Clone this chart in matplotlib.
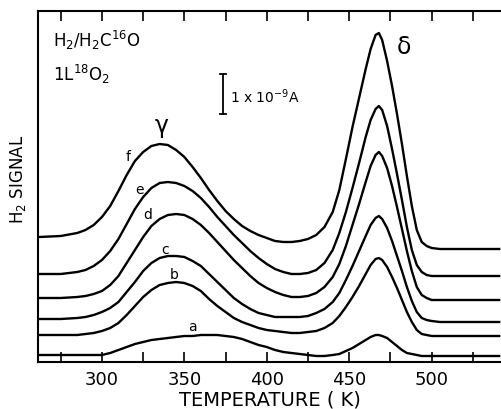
import matplotlib
matplotlib.use('Agg')
import matplotlib.pyplot as plt
from matplotlib.ticker import FixedLocator

plt.rcParams['font.family'] = ['DejaVu Sans']
plt.rcParams['mathtext.default'] = 'regular'

# Temperature grid (K) and traced H2 signal of each curve (arbitrary units).
temps = [262, 275, 285, 290, 295, 300, 305, 310, 315, 320, 325, 330, 335, 340,
         345, 350, 355, 360, 365, 370, 375, 380, 385, 390, 395, 400, 405, 410,
         415, 420, 425, 430, 435, 440, 444, 448, 452, 456, 460, 463, 466, 468,
         470, 473, 476, 479, 482, 485, 488, 491, 494, 497, 500, 505, 510, 541]

sig_a = [7, 7, 7, 7, 7, 7, 9, 12, 15, 18, 20, 22, 23, 24,
         25, 26, 26, 27, 27, 27, 26, 25, 23, 20, 17, 15, 12, 10,
         9, 8, 7, 6, 6, 7, 8, 11, 14, 18, 22, 25, 27, 27,
         26, 24, 20, 16, 12, 9, 8, 7, 6, 6, 6, 6, 6, 6]
sig_b = [27, 27, 27, 28, 29, 31, 34, 39, 47, 56, 65, 72, 77, 79,
         80, 79, 76, 71, 63, 56, 50, 44, 40, 37, 34, 32, 31, 30,
         29, 29, 30, 31, 34, 39, 46, 55, 65, 76, 88, 97, 103, 104,
         102, 95, 85, 74, 62, 50, 40, 32, 28, 27, 26, 26, 26, 26]
sig_c = [43, 43, 44, 45, 47, 50, 54, 60, 70, 80, 91, 99, 104, 106,
         106, 105, 101, 96, 88, 80, 72, 64, 58, 53, 49, 47, 45, 45,
         45, 45, 46, 49, 53, 60, 69, 82, 96, 111, 126, 137, 144, 146,
         143, 134, 121, 106, 91, 75, 61, 50, 44, 42, 41, 40, 40, 40]
sig_d = [64, 64, 65, 66, 68, 71, 77, 86, 99, 112, 125, 136, 143, 147,
         148, 147, 143, 137, 129, 120, 111, 102, 94, 86, 79, 74, 70, 67,
         65, 65, 66, 69, 75, 85, 98, 116, 137, 158, 180, 196, 207, 210,
         206, 194, 176, 155, 133, 111, 91, 75, 67, 64, 62, 62, 62, 62]
sig_e = [88, 88, 90, 92, 96, 102, 111, 123, 138, 153, 165, 174, 179, 180,
         179, 176, 171, 164, 155, 145, 136, 127, 119, 111, 104, 98, 93, 90,
         88, 88, 89, 92, 99, 112, 129, 150, 174, 199, 225, 242, 253, 256,
         252, 236, 213, 188, 162, 135, 112, 97, 90, 87, 86, 86, 86, 86]
sig_f = [125, 126, 129, 132, 137, 145, 156, 171, 187, 201, 210, 216, 218, 217,
         212, 205, 195, 184, 172, 161, 151, 143, 136, 131, 127, 124, 121, 120,
         120, 121, 123, 127, 135, 150, 172, 203, 235, 264, 293, 313, 327, 329,
         322, 301, 276, 248, 218, 186, 156, 132, 120, 116, 114, 113, 113, 113]

curves = [sig_a, sig_b, sig_c, sig_d, sig_e, sig_f]
curve_names = ['a', 'b', 'c', 'd', 'e', 'f']
name_T = [355, 344, 338, 328, 323, 316]
name_sig = [36, 88, 113, 148, 173, 206]

fig = plt.figure(figsize=(5.02, 4.10), dpi=100)
ax = fig.add_axes([38/502, 47/410, 1 - 38/502, 351/410])

for sig in curves:
    ax.plot(temps, sig, color='black', lw=1.7, solid_joinstyle='round')

for name, tx, sy in zip(curve_names, name_T, name_sig):
    ax.text(tx, sy, name, fontsize=10, ha='center', va='center')

# Peak labels and sample description.
ax.text(336, 235, r'$\gamma$', fontsize=17, ha='center', va='center')
ax.text(483, 316, r'$\delta$', fontsize=17, ha='center', va='center')
ax.text(270, 323, r'H$_2$/H$_2$C$^{16}$O', fontsize=12, ha='left', va='center')
ax.text(270, 289, r'1L$^{18}$O$_2$', fontsize=12, ha='left', va='center')

# Scale bar.
ax.plot([373.4, 373.4], [248, 288], color='black', lw=1.3)
ax.plot([371.6, 375.2], [288, 288], color='black', lw=1.3)
ax.plot([371.6, 375.2], [248, 248], color='black', lw=1.3)
ax.text(377.5, 266, r'1 x 10$^{-9}$A', fontsize=10, ha='left', va='center')

ax.set_xlim(261.2, 542.7)
ax.set_ylim(0, 351)
ax.xaxis.set_major_locator(FixedLocator([300, 350, 400, 450, 500]))
ax.xaxis.set_minor_locator(FixedLocator([275, 325, 375, 425, 475, 525]))
ax.tick_params(axis='x', which='both', direction='in', top=True, length=7,
               width=1.2, labelsize=13, pad=6)
ax.set_yticks([])
ax.spines['right'].set_visible(False)
for s in ['left', 'top', 'bottom']:
    ax.spines[s].set_linewidth(1.5)

ax.set_xlabel('TEMPERATURE ( K)', fontsize=14, labelpad=1)
fig.text(18/502, 1 - 179/410, r'H$_2$ SIGNAL', rotation=90, fontsize=12,
         ha='center', va='center')

fig.savefig('out.png', dpi=100)
